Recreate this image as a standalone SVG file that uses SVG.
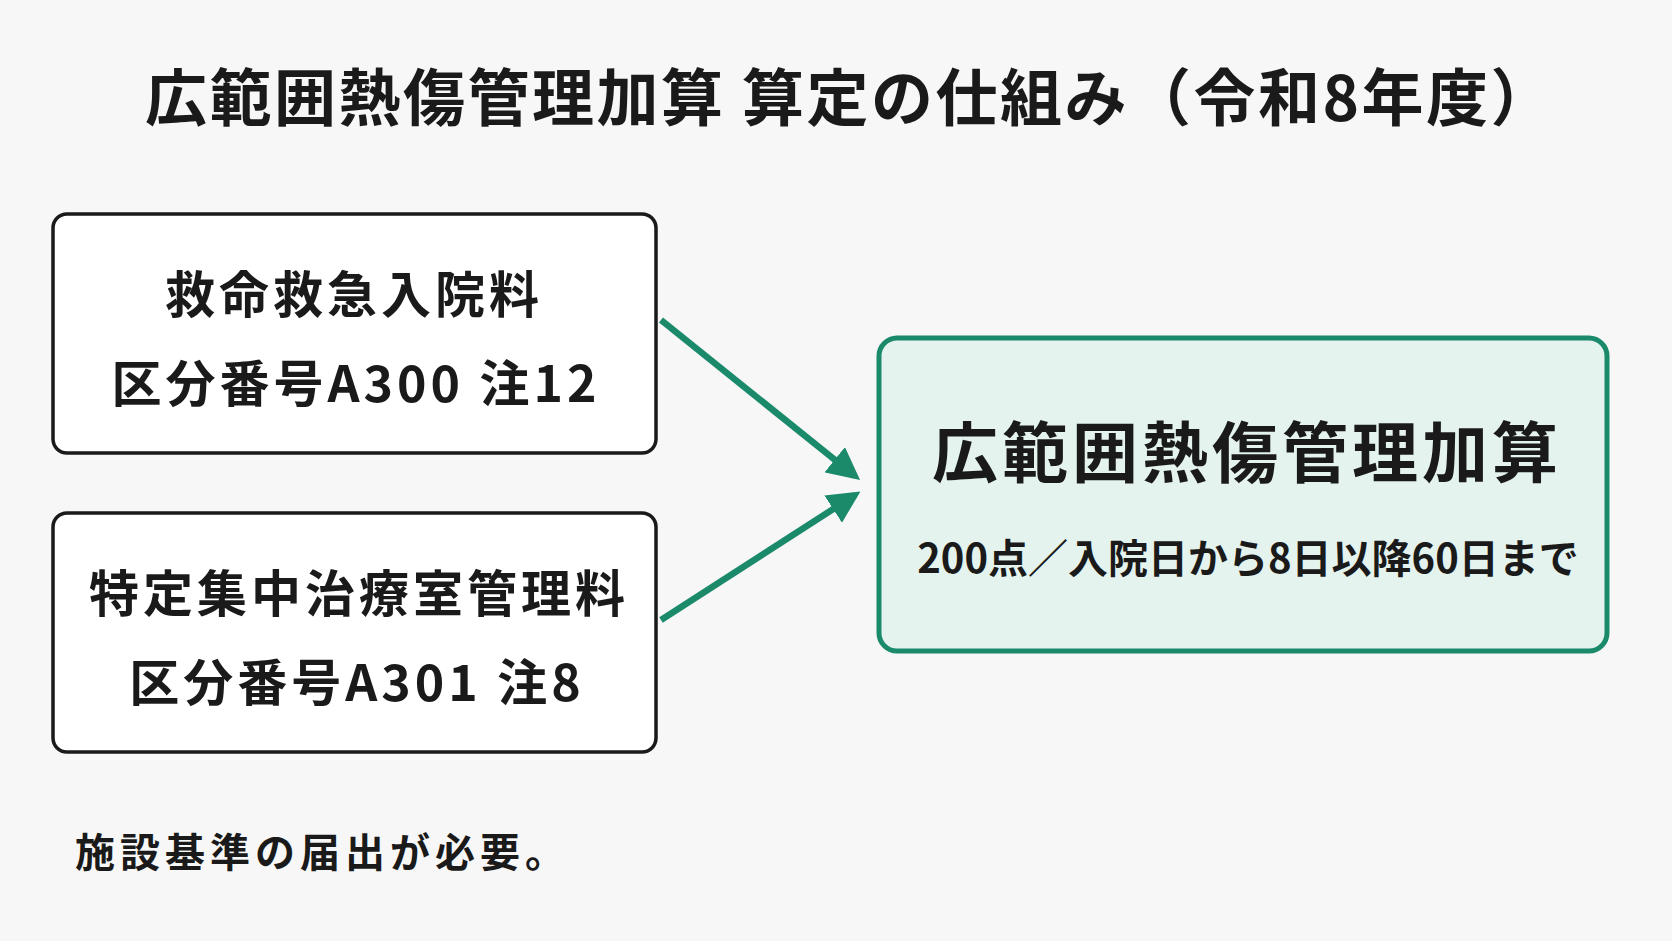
<svg xmlns="http://www.w3.org/2000/svg" width="1672" height="941" viewBox="0 0 1672 941">
<style>
text{font-family:"Noto Sans CJK JP","Noto Sans",sans-serif;font-weight:700;fill:#1a1a1a;text-anchor:middle}
.box{fill:#fff;stroke:#1a1a1a;stroke-width:3.5}
.bt{font-size:50px;letter-spacing:4px}
.conn{stroke:#1b8a6b;stroke-width:6.5;fill:none}
</style>
<defs><marker id="ah" viewBox="0 0 10 10" refX="8" refY="5" markerWidth="5" markerHeight="5" orient="auto"><path d="M0,0L10,5L0,10z" fill="#1b8a6b"/></marker></defs>
<rect width="1672" height="941" fill="#f7f7f7"/>
<text x="850" y="121" font-size="62" letter-spacing="2.5">広範囲熱傷管理加算 算定の仕組み（令和8年度）</text>
<g id="n1"><rect class="box" x="53" y="214" width="603" height="239" rx="14"/>
<text class="bt" x="354" y="313">救命救急入院料</text>
<text class="bt" x="356" y="402">区分番号A300 注12</text></g>
<g id="n2"><rect class="box" x="53" y="513" width="603" height="239" rx="14"/>
<text class="bt" x="359" y="612">特定集中治療室管理料</text>
<text class="bt" x="357" y="701">区分番号A301 注8</text></g>
<g id="n3"><rect x="879" y="338" width="728" height="313" rx="18" fill="#e5f3ee" stroke="#1b8a6b" stroke-width="5"/>
<text x="1247" y="477" font-size="66" letter-spacing="4">広範囲熱傷管理加算</text>
<text x="1248" y="573" font-size="40">200点／入院日から8日以降60日まで</text></g>
<g id="connectors">
<line class="conn" x1="661" y1="320" x2="855" y2="476" marker-end="url(#ah)"/>
<line class="conn" x1="661" y1="620" x2="855" y2="495" marker-end="url(#ah)"/>
</g>
<text x="75" y="867" font-size="40" letter-spacing="5" style="text-anchor:start">施設基準の届出が必要。</text>
</svg>
